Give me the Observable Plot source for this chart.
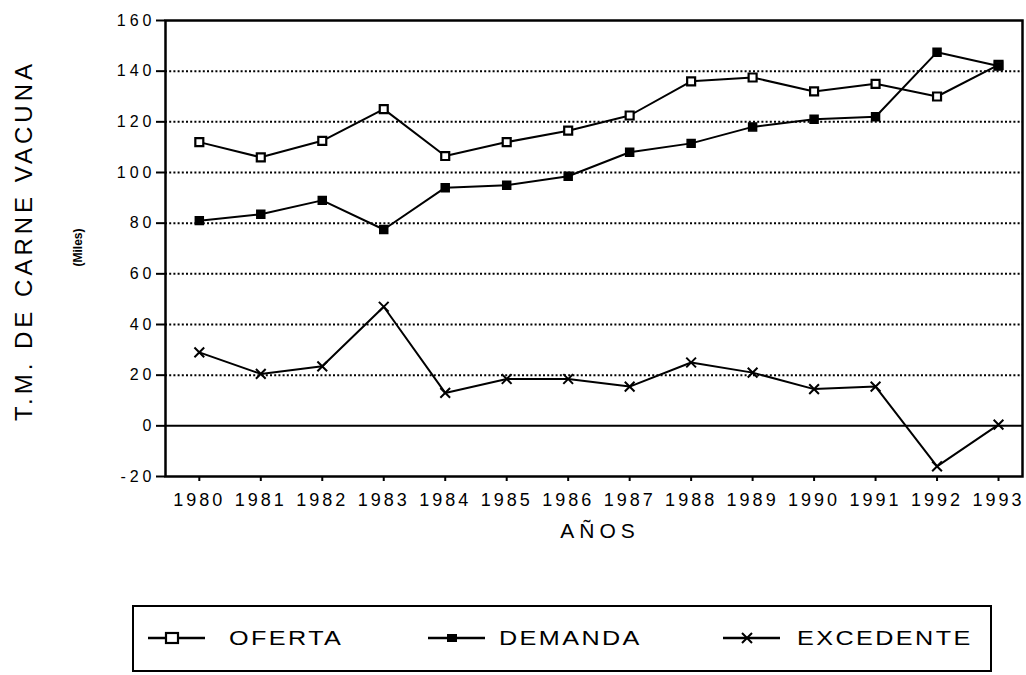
<!DOCTYPE html>
<html>
<head>
<meta charset="utf-8">
<script src="https://cdn.jsdelivr.net/npm/d3@7"></script>
<script src="https://cdn.jsdelivr.net/npm/@observablehq/plot@0.6"></script>
<style>
  html, body { margin: 0; padding: 0; background: #fff; }
  #wrap { position: relative; width: 1026px; height: 675px; overflow: hidden; font-family: "Liberation Sans", Arial, sans-serif; }
  #legend { position: absolute; left: 132px; top: 605px; width: 856px; height: 63px; border: 2px solid #000; box-sizing: content-box; }
  .mk { position: absolute; top: 21px; }
  .lt { position: absolute; top: 19px; font-size: 21px; line-height: 24px; letter-spacing: 2px; color: #000; transform: scaleX(1.2); transform-origin: left center; white-space: nowrap; }
  .ax-y text { letter-spacing: 4px; font-size: 16px !important; }
  .ax-x text { letter-spacing: 3px; font-size: 18px !important; }
  .t-y text { letter-spacing: 4px; font-size: 24px !important; }
  .t-u text { font-size: 12px !important; font-weight: bold; }
  .t-x text { letter-spacing: 5px; font-size: 21px !important; }
</style>
</head>
<body>
<div id="wrap">
  <div id="chart"></div>
  <div id="legend"></div>
</div>
<script>
const years = [1980, 1981, 1982, 1983, 1984, 1985, 1986, 1987, 1988, 1989, 1990, 1991, 1992, 1993];
const oferta = [112, 106, 112.5, 125, 106.5, 112, 116.5, 122.5, 136, 137.5, 132, 135, 130, 142.5];
const demanda = [81, 83.5, 89, 77.5, 94, 95, 98.5, 108, 111.5, 118, 121, 122, 147.5, 142];
const excedente = [29, 20.5, 23.5, 47, 13, 18.5, 18.5, 15.5, 25, 21, 14.5, 15.5, -16, 0.5];
const seriesNames = ["OFERTA", "DEMANDA", "EXCEDENTE"];
const yTicks = [-20, 0, 20, 40, 60, 80, 100, 120, 140, 160];
const gridTicks = [20, 40, 60, 80, 100, 120, 140];
const yTitle = "T.M. DE CARNE VACUNA";
const yUnit = "(Miles)";
const xTitle = "AÑOS";

const seriesValues = [oferta, demanda, excedente];
const data = seriesNames.flatMap((s, i) => years.map((yr, j) => ({series: s, year: yr, value: seriesValues[i][j]})));
const bySeries = s => data.filter(d => d.series === s);

const chart = Plot.plot({
  width: 1026,
  height: 560,
  marginLeft: 165,
  marginRight: 4,
  marginTop: 20,
  marginBottom: 84,
  style: {fontFamily: "'Liberation Sans', Arial, sans-serif", color: "#000", background: "#fff"},
  x: {type: "linear", domain: [1979.45, 1993.39], axis: null},
  y: {domain: [-20, 160], axis: null},
  marks: [
    Plot.ruleY(gridTicks, {stroke: "#000", strokeWidth: 2, strokeDasharray: "2,2.2"}),
    Plot.ruleY([0], {stroke: "#000", strokeWidth: 2}),
    Plot.frame({stroke: "#000", strokeWidth: 2.5}),
    Plot.axisY(yTicks, {anchor: "left", tickSize: 9, tickPadding: 1, strokeWidth: 2, label: null, tickFormat: d => String(d), className: "ax-y"}),
    Plot.axisX(years, {anchor: "bottom", tickSize: 5, tickPadding: 12, strokeWidth: 2, label: null, tickFormat: d => String(d), className: "ax-x"}),
    Plot.line(data, {x: "year", y: "value", z: "series", stroke: "#000", strokeWidth: 2}),
    Plot.dot(bySeries("OFERTA"), {x: "year", y: "value", symbol: "square", r: 4.5, fill: "#fff", stroke: "#000", strokeWidth: 2.2}),
    Plot.dot(bySeries("DEMANDA"), {x: "year", y: "value", symbol: "square", r: 4.5, fill: "#000", stroke: "#000"}),
    Plot.dot(bySeries("EXCEDENTE"), {x: "year", y: "value", symbol: "times", r: 4.5, stroke: "#000", strokeWidth: 2}),
    Plot.text([yTitle], {frameAnchor: "left", textAnchor: "middle", dx: -141, dy: -8, rotate: -90, fill: "#000", className: "t-y"}),
    Plot.text([yUnit], {frameAnchor: "left", textAnchor: "middle", dx: -87, dy: -1, rotate: -90, fill: "#000", className: "t-u"}),
    Plot.text([xTitle], {frameAnchor: "bottom", textAnchor: "middle", dx: 6, dy: 61, fill: "#000", className: "t-x"})
  ]
});
document.getElementById("chart").appendChild(chart);

// legend (positions relative to the legend box, whose left edge is at x=132)
const legendMarkerX = [14, 294, 589];
const legendTextX = [95, 365, 663];
const legendSym = [
  '<rect x="18" y="5" width="12" height="10" fill="#fff" stroke="#000" stroke-width="2.2"/>',
  '<rect x="19" y="6" width="10" height="8" fill="#000"/>',
  '<path d="M19,5L29,15M29,5L19,15" stroke="#000" stroke-width="2"/>'
];
const legend = document.getElementById("legend");
seriesNames.forEach((name, i) => {
  const mk = document.createElement("div");
  mk.className = "mk";
  mk.style.left = legendMarkerX[i] + "px";
  mk.innerHTML = '<svg width="58" height="20"><line x1="0" y1="10" x2="57" y2="10" stroke="#000" stroke-width="2.5"/>' + legendSym[i] + '</svg>';
  legend.appendChild(mk);
  const lt = document.createElement("div");
  lt.className = "lt";
  lt.style.left = legendTextX[i] + "px";
  lt.textContent = name;
  legend.appendChild(lt);
});
</script>
</body>
</html>
